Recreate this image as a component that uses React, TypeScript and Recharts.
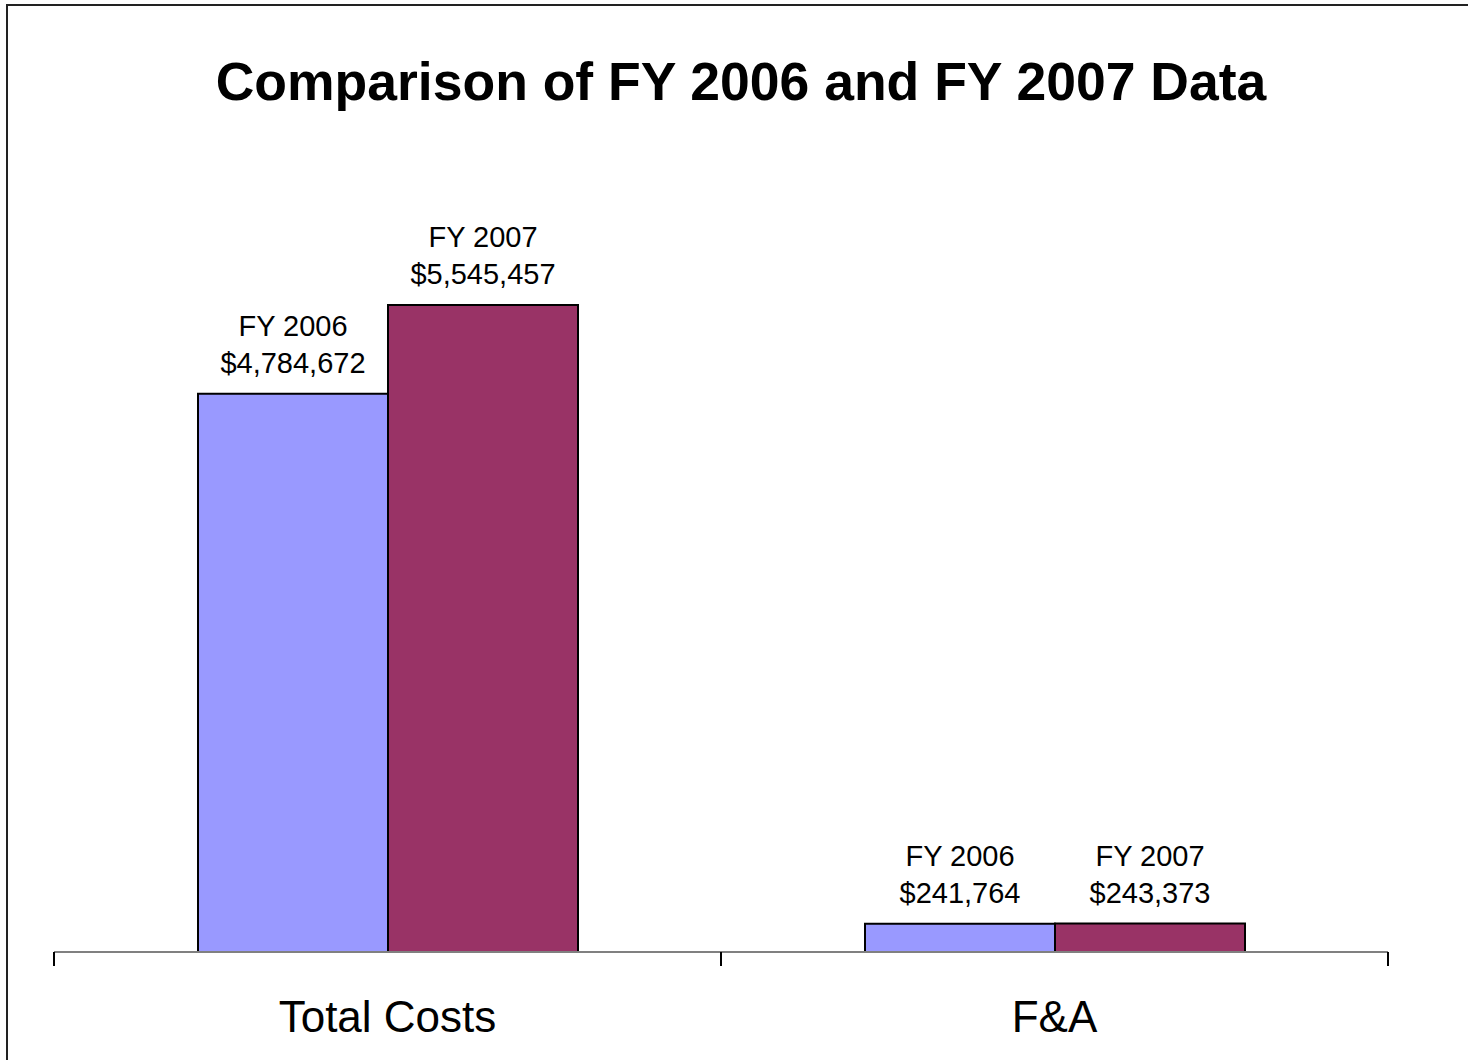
import React from "react";
import { Bar, BarChart, LabelList, XAxis, YAxis } from "recharts";

// chart values
const categories = ["Total Costs", "F&A"];
const fy2006Values = [4784672, 241764];
const fy2007Values = [5545457, 243373];
const seriesNames = ["FY 2006", "FY 2007"];

const data = categories.map((name, i) => ({
  name,
  fy2006: fy2006Values[i],
  fy2007: fy2007Values[i],
}));

const FONT = '"Liberation Sans", Arial, Helvetica, sans-serif';

const money = (v: number) => `$${v.toLocaleString("en-US")}`;

// two-line label above each bar: series name, then the dollar amount
const makeBarLabel = (seriesName: string) => (props: any) => {
  const { x, y, width, value } = props;
  const cx = Number(x) + Number(width) / 2;
  const top = Number(y);
  return (
    <text
      x={cx}
      textAnchor="middle"
      fontFamily={FONT}
      fontSize={29}
      fill="#000"
    >
      <tspan x={cx} y={top - 58}>
        {seriesName}
      </tspan>
      <tspan x={cx} y={top - 21}>
        {money(Number(value))}
      </tspan>
    </text>
  );
};

// category name, plus tick marks on the band edges (Excel style)
const CategoryTick = (props: any) => {
  const { x, y, payload, visibleTicksCount } = props;
  const half = Number(payload.offset) || 0;
  const left = Number(x) - half;
  const right = Number(x) + half;
  const isLast = payload.index === (visibleTicksCount ?? categories.length) - 1;
  return (
    <g>
      <line x1={left} x2={left} y1={y} y2={Number(y) + 14} stroke="#000" strokeWidth={2} />
      {isLast && (
        <line x1={right} x2={right} y1={y} y2={Number(y) + 14} stroke="#000" strokeWidth={2} />
      )}
      <text
        x={x}
        y={Number(y) + 80}
        textAnchor="middle"
        fontFamily={FONT}
        fontSize={44}
        fill="#000"
      >
        {payload.value}
      </text>
    </g>
  );
};

export default function App() {
  return (
    <div
      style={{
        position: "absolute",
        left: 0,
        top: 0,
        width: 1468,
        height: 1060,
        background: "#fff",
        overflow: "hidden",
      }}
    >
      {/* frame of the slide, only its top and left edges are in view */}
      <div
        style={{
          position: "absolute",
          left: 6,
          top: 4,
          width: 1500,
          height: 1100,
          borderLeft: "2px solid #222",
          borderTop: "2px solid #222",
        }}
      />
      <div
        style={{
          position: "absolute",
          left: 6,
          width: 1470,
          top: 55,
          textAlign: "center",
          fontFamily: FONT,
          fontWeight: "bold",
          fontSize: 53.5,
          lineHeight: "53px",
          color: "#000",
        }}
      >
        Comparison of FY 2006 and FY 2007 Data
      </div>
      <div style={{ position: "absolute", left: 0, top: 0 }}>
        <BarChart
          width={1468}
          height={1060}
          data={data}
          margin={{ top: 252, right: 80, left: 54, bottom: 47 }}
          barSize={190}
          barGap={0}
        >
          <XAxis
            dataKey="name"
            height={61}
            axisLine={{ stroke: "#808080", strokeWidth: 2 }}
            tickLine={false}
            tickSize={0}
            tickMargin={0}
            tick={<CategoryTick />}
            interval={0}
          />
          <YAxis hide domain={[0, 6000000]} />
          <Bar
            dataKey="fy2006"
            name={seriesNames[0]}
            fill="#9999FF"
            stroke="#000"
            strokeWidth={2}
            isAnimationActive={false}
          >
            <LabelList dataKey="fy2006" content={makeBarLabel(seriesNames[0])} />
          </Bar>
          <Bar
            dataKey="fy2007"
            name={seriesNames[1]}
            fill="#993366"
            stroke="#000"
            strokeWidth={2}
            isAnimationActive={false}
          >
            <LabelList dataKey="fy2007" content={makeBarLabel(seriesNames[1])} />
          </Bar>
        </BarChart>
      </div>
    </div>
  );
}
